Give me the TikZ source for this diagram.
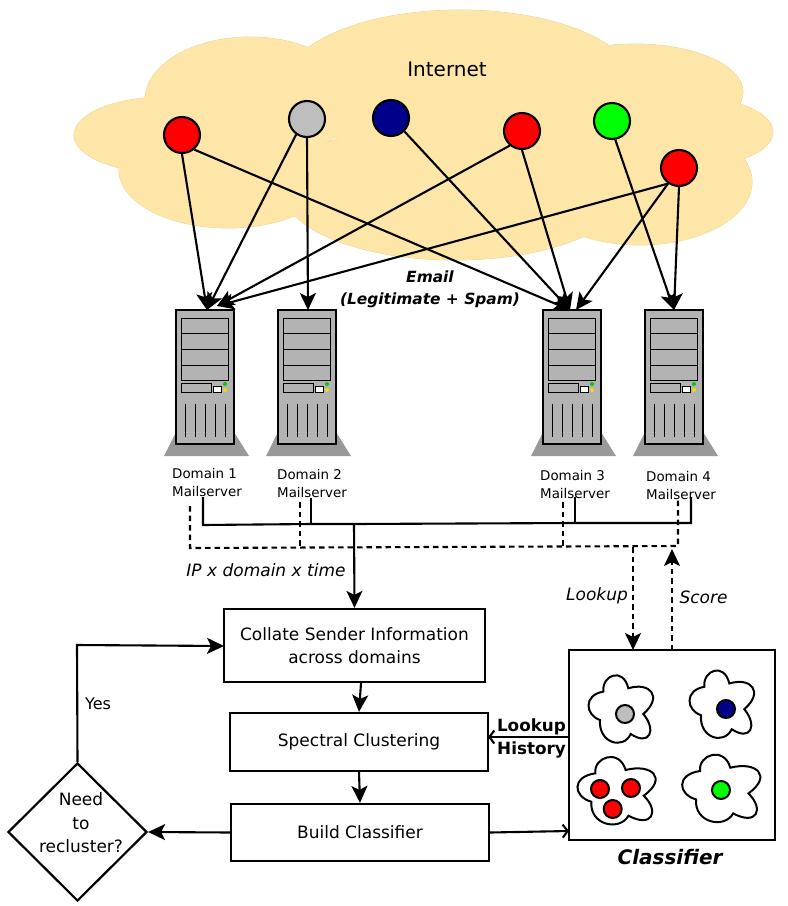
\documentclass[tikz,border=0pt]{standalone}
\usepackage{fontspec}
\setmainfont{DejaVu Sans}
\usetikzlibrary{shapes.geometric, arrows.meta}
\definecolor{cloudfill}{HTML}{FDE6A8}
\definecolor{cloudedge}{HTML}{E8D08F}
\definecolor{servergray}{HTML}{B3B3B3}
\definecolor{basegray}{HTML}{999999}
\definecolor{navyblue}{HTML}{00008B}
\definecolor{spamgray}{HTML}{BEBEBE}
\newcommand{\txt}[2]{\fontsize{#1}{#2}\selectfont}
\tikzset{
  >={Stealth[length=17pt,width=16pt,inset=4pt]},
  flow/.style={line width=2.1pt},
  dashflow/.style={line width=2.1pt, dash pattern=on 5.5pt off 4pt},
  openflow/.style={line width=2.1pt, -{Straight Barb[length=5pt,width=13pt]}},
  sender/.style={circle, draw, line width=2.1pt, minimum size=36pt, inner sep=0pt},
  member/.style={circle, draw, line width=2pt, minimum size=18pt, inner sep=0pt},
  procbox/.style={draw, line width=2.2pt, align=center, inner sep=0pt},
  plainlabel/.style={font=\txt{13.4}{18}, align=left, anchor=west, inner sep=0pt},
}
\newcommand{\mailserver}[1]{
  \begin{scope}[shift={(#1,310)}]
    \fill[basegray] (0,122) -- (-12,146) -- (73,146) -- (58,122) -- cycle;
    \draw[fill=servergray, line width=2pt] (0,0) rectangle (58,134);
    \draw[line width=1pt] (5,8) rectangle (52,70);
    \foreach \y in {23.5,39,55} {
      \draw[line width=1pt] (5,\y) -- (52,\y);
    }
    \draw[line width=1pt] (5,73) rectangle (35,82);
    \draw[fill=white, line width=1pt] (37,76) rectangle (45,82);
    \fill[green!80!black] (49,74) circle (2);
    \fill[yellow!90!black] (49,80) circle (2);
    \foreach \x in {9,19,29,39,49} {
      \draw[line width=0.9pt] (\x,94) -- (\x,127);
    }
  \end{scope}
}
\newcommand{\flower}[3]{
  \draw[line width=2pt, fill=white, shift={(#1,#2)}, xscale=#3]
    (-21.7,-21.7) .. controls (-23.3,-38.3) and (-1.7,-46.7) .. (3.3,-25)
    .. controls (25,-31.7) and (38.3,-16.7) .. (18.3,0.7)
    .. controls (31.7,16.7) and (25,33.3) .. (5.7,20.7)
    .. controls (-1.7,36.7) and (-26.7,30) .. (-25,6.7)
    .. controls (-40,1.7) and (-41.7,-18.3) .. cycle;
}
\begin{document}
\begin{tikzpicture}[x=1pt, y=-1pt]
      \useasboundingbox (0,0) rectangle (788,906);

      \foreach \cx/\cy/\rx/\ry in {460/85/175/75, 250/100/105/63, 635/92/108/48, 165/135/91/38,
          228/170/109/58, 690/132/83/35, 640/182/112/63, 455/190/172/70} {
        \draw[cloudedge, line width=0.8pt] (\cx,\cy) ellipse ({\rx} and {\ry});
      }
      \foreach \cx/\cy/\rx/\ry in {460/85/175/75, 250/100/105/63, 635/92/108/48, 165/135/91/38,
          228/170/109/58, 690/132/83/35, 640/182/112/63, 455/190/172/70} {
        \fill[cloudfill] (\cx,\cy) ellipse ({\rx} and {\ry});
      }

      \node[font=\txt{20}{24}] (internet) at (447,69) {Internet};

      \mailserver{176}
      \mailserver{278}
      \mailserver{543}
      \mailserver{645}

      \coordinate (inA) at (207,310);
      \coordinate (inAside) at (217,306);
      \coordinate (inB) at (308,310);
      \coordinate (inC) at (570,310);
      \coordinate (inCside) at (576,310);
      \coordinate (inD) at (674,310);

      \node[sender, fill=red] (red1) at (182,135) {};
      \node[sender, fill=spamgray] (gray1) at (307,119) {};
      \node[sender, fill=navyblue] (navy1) at (391,118) {};
      \node[sender, fill=red] (red2) at (522,131) {};
      \node[sender, fill=green] (green1) at (612,121) {};
      \node[sender, fill=red] (red3) at (679,168) {};

      \draw[->, flow] (red1.south) -- (inA);
      \draw[->, flow] (red1.-50) -- (inC);
      \draw[->, flow] (gray1.-125) -- (inA);
      \draw[->, flow] (gray1.south) -- (inB);
      \draw[->, flow] (navy1.-45) -- (inC);
      \draw[->, flow] (red2.-130) -- (inAside);
      \draw[->, flow] (red2.south) -- (inC);
      \draw[->, flow] (red3.-125) -- (inAside);
      \draw[->, flow] (red3.-125) -- (inCside);
      \draw[->, flow] (red3.south) -- (inD);
      \draw[->, flow] (green1.-80) -- (inD);

      \node[font=\txt{15.4}{22}\bfseries\itshape, align=center] (email) at (430,289) {Email\\(Legitimate + Spam)};

      \node[plainlabel] (dom1) at (172,482) {Domain 1\\Mailserver};
      \node[plainlabel] (dom2) at (277,483) {Domain 2\\Mailserver};
      \node[plainlabel] (dom3) at (540,484) {Domain 3\\Mailserver};
      \node[plainlabel] (dom4) at (646,485) {Domain 4\\Mailserver};

      \coordinate (busA) at (203,525);
      \coordinate (busB) at (311,524);
      \coordinate (busDrop) at (354,524);
      \coordinate (busC) at (575,523);
      \coordinate (busD) at (691,523);
      \coordinate (tapA) at (203,497);
      \coordinate (tapB) at (311,498);
      \coordinate (tapC) at (575,497);
      \coordinate (tapD) at (691,497);

      \draw[flow] (tapA) -- (busA) -- (busB) -- (busDrop) -- (busC) -- (busD) -- (tapD);
      \draw[flow] (tapB) -- (busB);
      \draw[flow] (tapC) -- (busC);

      \coordinate (dashA) at (190,506);
      \coordinate (cornerA) at (190,548);
      \coordinate (dashB) at (300,502);
      \coordinate (cornerB) at (300,547);
      \coordinate (dashC) at (563,502);
      \coordinate (cornerC) at (563,546);
      \coordinate (dashD) at (678,500);
      \coordinate (cornerD) at (678,546);
      \coordinate (lookupTop) at (633,547);
      \coordinate (scoreTop) at (672,549);

      \draw[dashflow] (dashA) -- (cornerA) -- (cornerD) -- (dashD);
      \draw[dashflow] (dashB) -- (cornerB);
      \draw[dashflow] (dashC) -- (cornerC);

      \node[font=\txt{17}{20}\itshape] (volume) at (266,570) {IP x domain x time};
      \node[font=\txt{17}{20}\itshape] (lookuplabel) at (597,596) {Lookup};
      \node[font=\txt{17}{20}\itshape] (scorelabel) at (703.5,597) {Score};
      \node[font=\txt{16}{20}] (yes) at (98,704) {Yes};

      \node[procbox, font=\txt{17}{23}, minimum width=261, minimum height=73] (collate) at (354.5,645.5)
        {Collate Sender Information\\across domains};
      \node[procbox, font=\txt{17}{23}, minimum width=258, minimum height=58] (spectral) at (359,742)
        {Spectral Clustering};
      \node[procbox, font=\txt{17}{23}, minimum width=258, minimum height=57] (build) at (360,832.5)
        {\raisebox{1pt}{Build Classifier}};
      \node[diamond, draw, line width=2.2pt, minimum width=139, minimum height=138, inner sep=0pt] (recluster) at (77.5,832) {};
      \node[font=\txt{17}{23.5}, align=center] (reclusterlabel) at (81,823) {Need\\to\\recluster?};
      \node[draw, line width=2.2pt, minimum width=206, minimum height=190, inner sep=0pt] (classifier) at (672,745) {};
      \node[font=\txt{20}{24}\bfseries\itshape] (classifierlabel) at (670,857) {Classifier};
      \node[font=\txt{16.8}{23}\bfseries, align=center] (history) at (531.5,738) {Lookup\\History};

      \coordinate (historyOut) at (569,737);
      \coordinate (historyIn) at (488,737);
      \coordinate (classIn) at (569,831);
      \coordinate (lookupIn) at (633,650);
      \coordinate (scoreOut) at (672,650);
      \coordinate (yesCorner) at (77,645);
      \coordinate (yesIn) at (224,646);

      \draw[->, flow] (busDrop) -- (collate.north);
      \draw[->, flow] ([xshift=6.5pt]collate.south) -- (spectral.north);
      \draw[->, flow] (spectral.south) -- (build.north);
      \draw[->, flow] (build.west) -- (recluster.east);
      \draw[openflow] (build.east) -- (classIn);
      \draw[openflow] (historyOut) -- (historyIn);
      \draw[->, flow] (recluster.north) -- (yesCorner) -- (yesIn);
      \draw[->, dashflow] (lookupTop) -- (lookupIn);
      \draw[->, dashflow] (scoreOut) -- (scoreTop);

      \flower{625}{713.3}{1}
      \flower{726}{708.5}{1}
      \flower{621.6}{795}{1.21}
      \flower{726.3}{792.7}{1.21}

      \node[member, fill=spamgray] (dotgray) at (625,714) {};
      \node[member, fill=navyblue] (dotnavy) at (726,709) {};
      \node[member, fill=red] (dotredA) at (600,789) {};
      \node[member, fill=red] (dotredB) at (631,788) {};
      \node[member, fill=red] (dotredC) at (612.7,809) {};
      \node[member, fill=green] (dotgreen) at (721,790) {};
\end{tikzpicture}
\end{document}
